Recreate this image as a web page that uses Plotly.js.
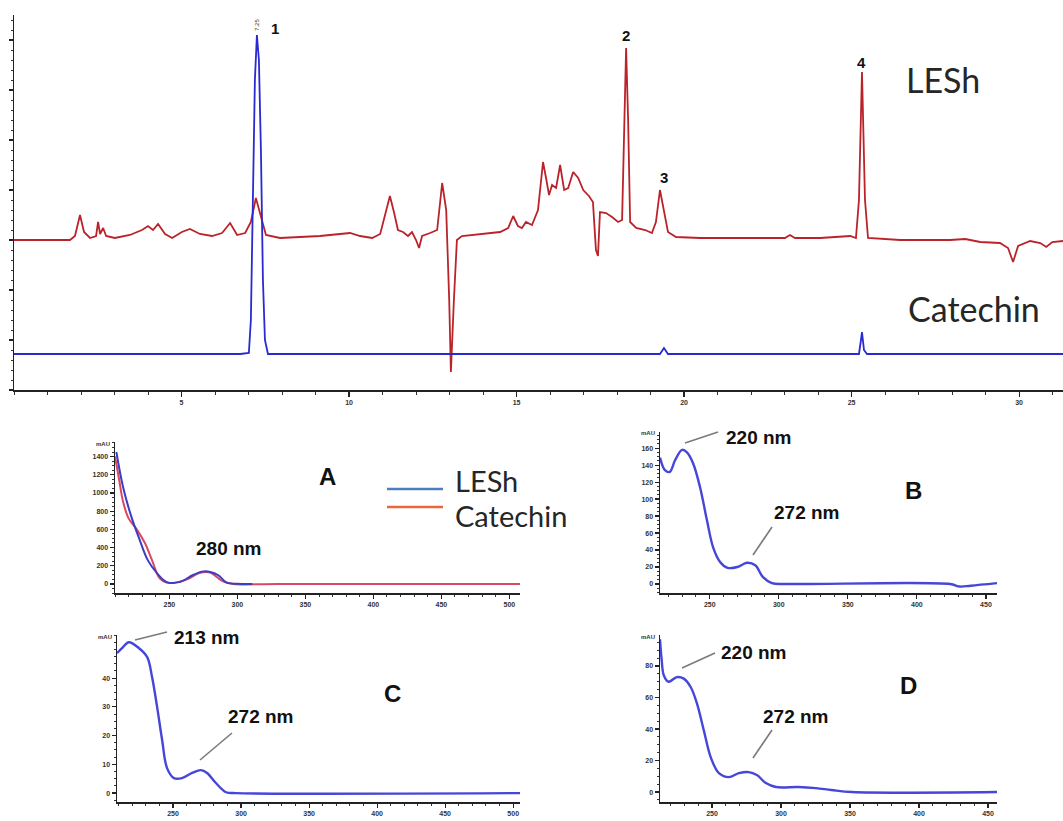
<!DOCTYPE html>
<html>
<head>
<meta charset="utf-8">
<script src="https://cdn.plot.ly/plotly-3.0.1.min.js"></script>
<style>html,body{margin:0;padding:0;background:#fff;}#chart{width:1063px;height:821px;}</style>
</head>
<body>
<div id="chart"></div>
<script>
// ---------- Chromatogram (retention time, min / relative absorbance) ----------
const lesh_time = [0,1.67,1.82,1.97,2.09,2.27,2.45,2.51,2.57,2.66,2.75,3.01,3.46,3.82,4.0,4.15,4.3,4.51,4.72,5.01,5.25,5.55,5.91,6.21,6.45,6.66,6.9,7.07,7.22,7.34,7.52,7.94,8.54,9.13,9.73,10.03,10.33,10.69,10.93,11.07,11.22,11.34,11.46,11.61,11.76,11.88,12.0,12.09,12.18,12.42,12.63,12.78,12.9,12.99,13.04,13.13,13.22,13.37,13.91,14.51,14.75,14.9,15.04,15.16,15.28,15.46,15.64,15.79,15.88,15.97,16.06,16.18,16.3,16.42,16.54,16.69,16.84,16.99,17.16,17.28,17.37,17.43,17.49,17.67,17.85,18.03,18.15,18.21,18.27,18.33,18.39,18.57,18.84,19.04,19.16,19.28,19.4,19.52,19.76,20.48,21.67,23.01,23.16,23.31,24.06,24.6,24.96,25.13,25.22,25.31,25.4,25.49,26.45,27.94,28.39,28.84,29.43,29.67,29.82,29.97,30.33,30.63,30.81,30.99,31.31];
const lesh_signal = [150,150,154,175,158,152,154,168,156,162,154,152,155,160,164,160,166,156,152,158,161,156,154,157,167,155,157,168,192,176,155,152,153,154,156,157,154,152,156,175,194,178,160,158,154,158,150,142,154,157,160,207,180,90,18,90,150,154,156,158,162,174,164,162,168,165,180,228,212,195,205,202,225,200,202,218,212,200,194,188,140,134,178,177,173,168,170,270,342,270,168,162,160,157,168,200,180,158,153,152,152,152,155,152,152,153,154,152,190,318,190,152,150,150,151,148,147,142,128,144,149,147,143,148,149];

const cat_time = [0,2.57,6.75,7.01,7.07,7.13,7.19,7.25,7.31,7.37,7.43,7.49,7.58,19.28,19.4,19.52,25.22,25.28,25.31,25.37,25.46,31.31];
const cat_signal = [36,36,36,37,70,190,310,355,330,240,110,50,36,36,42,36,36,50,58,40,36,36];

const peak_labels = ['1','2','3','4'];
const peak_times = [7.25,18.27,19.4,25.31];

// ---------- UV spectra (wavelength nm / absorbance mAU) ----------
const A_lesh_nm  = [211,216,222,228,234,241,248,258,267,274,280,286,292,300,311];
const A_lesh_mau = [1450,1060,740,490,264,115,20,22,95,135,132,95,15,2,0];
const A_cat_nm   = [210,213,216,220,226,232,237,243,250,263,272,280,289,297,330,508];
const A_cat_mau  = [1400,1150,900,720,600,450,270,60,10,50,120,125,30,0,0,0];

const B_nm  = [214,217.6,221,225,230,233.5,238,243,248,252.4,257.5,263,270,277,283,288.6,295,306,424,431,439,458];
const B_mau = [149,134,132,146,158,155,142,114,75,43.5,26,19,20,25,22,8,1,0,0,-3,-2,1];

const C_nm  = [208.8,212.5,217.5,225,231,234.6,238.3,242,245.6,250.7,256.5,264,270.5,275,281.5,289,296,505];
const C_mau = [48.7,50.4,52.5,50.4,47.3,40.3,29.9,18.4,8.7,5.2,5.2,7,8,7,3.5,0.3,0,0];

const D_nm  = [212.3,213.5,215.1,218.5,224.5,229.5,234.5,239,244.1,249.1,255,262.2,269.5,276.5,282.5,289,296.3,312.5,325.2,336.5,351.5,456.5];
const D_mau = [97,84,74,70,73,72,66.7,56.5,39,22,12,9.5,12,12.7,10.8,5.7,3.2,3.2,2.5,1.3,0,0];

const chrom_ticks = [5,10,15,20,25,30];
const A_yticks = [0,200,400,600,800,1000,1200,1400];
const B_yticks = [0,20,40,60,80,100,120,140,160];
const C_yticks = [0,10,20,30,40];
const D_yticks = [0,20,40,60,80];
const A_xticks = [250,300,350,400,450,500];
const B_xticks = [250,300,350,400,450];

// ---------- helpers for layout (pixel -> paper) ----------
const W = 1063, H = 821;
const px = p => p / W;
const py = p => 1 - p / H;

const specColor = '#4646d8';
const traces = [
  {x: lesh_time, y: lesh_signal, xaxis:'x', yaxis:'y', mode:'lines', line:{color:'#bb232b', width:1.8}},
  {x: cat_time, y: cat_signal, xaxis:'x', yaxis:'y', mode:'lines', line:{color:'#2a2ad0', width:1.8}},
  {x: A_cat_nm, y: A_cat_mau, xaxis:'x2', yaxis:'y2', mode:'lines', line:{color:'#d94860', width:2, shape:'spline'}},
  {x: A_lesh_nm, y: A_lesh_mau, xaxis:'x2', yaxis:'y2', mode:'lines', line:{color:'#3c3cc4', width:2, shape:'spline'}},
  {x: B_nm, y: B_mau, xaxis:'x3', yaxis:'y3', mode:'lines', line:{color:specColor, width:2.4, shape:'spline'}},
  {x: C_nm, y: C_mau, xaxis:'x4', yaxis:'y4', mode:'lines', line:{color:specColor, width:2.4, shape:'spline'}},
  {x: D_nm, y: D_mau, xaxis:'x5', yaxis:'y5', mode:'lines', line:{color:specColor, width:2.4, shape:'spline'}}
];

const tickFont = {family:'Liberation Sans, Arial, sans-serif', size:7, color:'#333'};
function ax(extra) {
  return Object.assign({
    showline:true, linecolor:'#222', linewidth:1.5, ticks:'outside', ticklen:4, tickwidth:1.2,
    tickcolor:'#222', showgrid:false, zeroline:false, tickfont:tickFont, fixedrange:true
  }, extra);
}
const minor = d => ({dtick:d, ticks:'outside', ticklen:2, tickwidth:1, tickcolor:'#333', showgrid:false});
const bold = a => a.map(v => '<b>' + v + '</b>');

const layout = {
  width: W, height: H, margin:{l:0, r:0, t:0, b:0},
  paper_bgcolor:'#fff', plot_bgcolor:'rgba(0,0,0,0)', showlegend:false,
  xaxis: ax({domain:[px(14),1], range:[0,31.31], anchor:'y', tickvals:chrom_ticks, ticktext:bold(chrom_ticks), ticklen:5,
             minor:{dtick:1, ticks:'outside', ticklen:3, tickwidth:1, tickcolor:'#333', showgrid:false}}),
  yaxis: ax({domain:[py(390),py(15)], range:[0,375], anchor:'x', dtick:50, tick0:0, showticklabels:false, ticklen:4,
             minor:minor(10)}),
  xaxis2: ax({domain:[px(115),px(520)], range:[210,507.8], anchor:'y2', tickvals:A_xticks, ticktext:bold(A_xticks), minor:minor(10)}),
  yaxis2: ax({domain:[py(593),py(442)], range:[-100,1560], anchor:'x2', tickvals:A_yticks, ticktext:bold(A_yticks), minor:minor(50)}),
  xaxis3: ax({domain:[px(660),px(997)], range:[214,458], anchor:'y3', tickvals:B_xticks, ticktext:bold(B_xticks), minor:minor(10)}),
  yaxis3: ax({domain:[py(593),py(432)], range:[-10.6,179], anchor:'x3', tickvals:B_yticks, ticktext:bold(B_yticks), minor:minor(5)}),
  xaxis4: ax({domain:[px(117),px(520)], range:[208.8,505], anchor:'y4', tickvals:A_xticks, ticktext:bold(A_xticks), minor:minor(10)}),
  yaxis4: ax({domain:[py(802),py(635)], range:[-3.1,55], anchor:'x4', tickvals:C_yticks, ticktext:bold(C_yticks), minor:minor(2.5)}),
  xaxis5: ax({domain:[px(660),px(997)], range:[212.3,456.5], anchor:'y5', tickvals:B_xticks, ticktext:bold(B_xticks), minor:minor(10)}),
  yaxis5: ax({domain:[py(802),py(635)], range:[-6.3,99.7], anchor:'x5', tickvals:D_yticks, ticktext:bold(D_yticks), minor:minor(5)}),
  shapes: [], annotations: []
};

const numFont = {family:'Liberation Sans, Arial, sans-serif', size:15, color:'#111'};
// Peak numbers on chromatogram (anchored to data)
const peakLabelY = [362, 355, 213, 328];
const peakLabelDx = [18, 0, 0, 0];
peak_labels.forEach((t, i) => {
  layout.annotations.push({xref:'x', yref:'y', x:peak_times[i], y:peakLabelY[i], xshift:peakLabelDx[i], xanchor:'center', yanchor:'middle', text:'<b>'+t+'</b>', showarrow:false, font:numFont});
});
layout.annotations.push({xref:'x', yref:'y', x:peak_times[0], y:365, xanchor:'center', yanchor:'middle', text:'7.25', textangle:-90, showarrow:false, font:{family:'Liberation Sans', size:6, color:'#333'}});

function txt(x, y, t, f, xa) {
  layout.annotations.push({xref:'paper', yref:'paper', x:px(x), y:py(y), xanchor:xa || 'center', yanchor:'middle', text:t, showarrow:false, font:f});
}
function seg(x0, y0, x1, y1, c, w) { layout.shapes.push({type:'line', xref:'paper', yref:'paper', x0:px(x0), y0:py(y0), x1:px(x1), y1:py(y1), line:{color:c, width:w}}); }

const bigFont = {family:'Lato, Open Sans, sans-serif', size:34, color:'#262626'};
txt(943, 80, 'LESh', bigFont);
txt(974, 308, 'Catechin', bigFont);

// Panel letters and wavelength callouts
const callFont = {family:'Liberation Sans, Arial, sans-serif', size:19, color:'#111'};
const letterFont = {family:'Liberation Sans, Arial, sans-serif', size:24, color:'#111'};

txt(327, 476, '<b>A</b>', letterFont);
txt(228, 548, '<b>280 nm</b>', callFont);
txt(913, 490, '<b>B</b>', letterFont);
txt(758, 437, '<b>220 nm</b>', callFont);
txt(806, 512, '<b>272 nm</b>', callFont);
txt(392, 693, '<b>C</b>', letterFont);
txt(206, 637, '<b>213 nm</b>', callFont);
txt(260, 716, '<b>272 nm</b>', callFont);
txt(908, 685, '<b>D</b>', letterFont);
txt(753, 652, '<b>220 nm</b>', callFont);
txt(795, 716, '<b>272 nm</b>', callFont);

const grey = '#7a7a7a';
seg(685, 443, 718, 432, grey, 1.6);
seg(753, 555, 772, 527, grey, 1.6);
seg(135, 640, 167, 632, grey, 1.6);
seg(200, 760, 232, 733, grey, 1.6);
seg(682, 668, 715, 653, grey, 1.6);
seg(753, 758, 772, 730, grey, 1.6);

// Legend of panel A
seg(387, 489, 443, 489, '#4a7fc0', 2.5);
seg(387, 507, 443, 507, '#e8683a', 2.5);
const legFont = {family:'Lato, Open Sans, sans-serif', size:29, color:'#262626'};
txt(453, 480, 'LESh', legFont, 'left');
txt(453, 515, 'Catechin', legFont, 'left');

// unit labels at top of spectra y-axes
const unitFont = {family:'Liberation Sans, Arial, sans-serif', size:6, color:'#333'};
[[112,444],[657,433],[114,637],[657,637]].forEach(p => txt(p[0], p[1], '<b>mAU</b>', unitFont, 'right'));

Plotly.newPlot('chart', traces, layout, {staticPlot:true, displayModeBar:false});
</script>
</body>
</html>
